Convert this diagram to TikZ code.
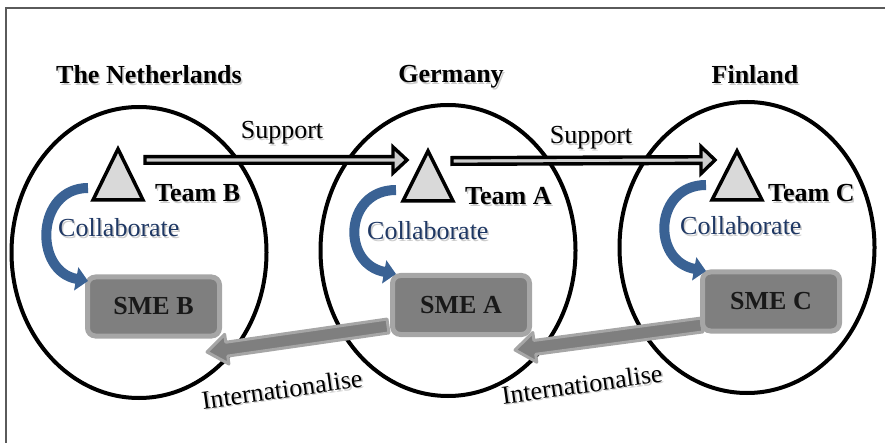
\documentclass[tikz,border=0pt]{standalone}
\usepackage{fontspec}
\setmainfont{Liberation Serif}
\usetikzlibrary{calc,arrows.meta,shapes.geometric}
\definecolor{smefill}{RGB}{127,127,127}
\definecolor{smeborder}{RGB}{166,166,166}
\definecolor{collabblue}{RGB}{58,98,148}
\definecolor{collabtext}{RGB}{31,56,100}
\definecolor{trifill}{RGB}{217,217,217}
\definecolor{framegray}{RGB}{90,90,90}
\definecolor{supfill}{RGB}{205,205,205}
\newcommand{\shtext}[1]{\makebox[0pt][l]{\hspace{1.5pt}\raisebox{-1.5pt}{\textcolor{black!20}{#1}}}#1}
% block arrow: style, tail, tip, body half width, head half width, head length
\newcommand{\blockarrow}[6]{%
  \coordinate (#2-#3-h) at ($(#3)!#6!(#2)$);
  \draw[#1] ($(#2)!#4!90:(#3)$) -- ($(#2-#3-h)!#4!-90:(#2)$) -- ($(#2-#3-h)!#5!-90:(#2)$) -- (#3)
    -- ($(#2-#3-h)!#5!90:(#2)$) -- ($(#2-#3-h)!#4!90:(#2)$) -- ($(#2)!#4!-90:(#3)$) -- cycle;}
\tikzset{
  country/.style={draw=black, line width=4pt, ellipse, inner sep=0pt, minimum width=255pt, minimum height=291pt},
  title/.style={font=\fontsize{26}{30}\selectfont\bfseries, inner sep=0pt},
  teamlbl/.style={font=\fontsize{26}{30}\selectfont\bfseries, inner sep=0pt},
  lbl/.style={font=\fontsize{26}{30}\selectfont, inner sep=0pt},
  collab/.style={font=\fontsize{26}{30}\selectfont, text=collabtext, inner sep=0pt},
  smebox/.style={draw=smeborder, line width=5pt, fill=smefill, rounded corners=8pt, minimum height=59pt,
    font=\fontsize{26}{30}\selectfont\bfseries, text=black!90, inner sep=0pt},
  tri/.style={draw=black, line width=3.5pt, fill=trifill, line join=miter},
  suparrow/.style={draw=black, line width=3.4pt, fill=supfill, line join=miter},
  intarrow/.style={draw=smeborder, line width=3pt, fill=smefill, line join=round},
  collabarrow/.style={draw=collabblue, line width=10pt, -{Triangle[length=12pt,width=23pt]}},
}
\begin{document}
\begin{tikzpicture}[x=1pt,y=-1pt]
\useasboundingbox (0,0) rectangle (885,443);
% frame
\draw[framegray, line width=1.2pt] (6,443) -- (6,8) -- (885,8);
% countries
\node[country] (ellB) at (139,252.5) {};
\node[country] (ellA) at (448,250.5) {};
\node[country] (ellC) at (747,247.5) {};
% titles
\node[title, anchor=base] (tNL) at (149,84) {\shtext{The Netherlands}};
\node[title, anchor=base] (tDE) at (451,83) {\shtext{Germany}};
\node[title, anchor=base] (tFI) at (755,84) {\shtext{Finland}};
% triangles (teams)
\draw[tri] (118,149) coordinate (triB) -- (143,200) -- (93,200) -- cycle;
\draw[tri] (428,151) coordinate (triA) -- (453,201) -- (403,201) -- cycle;
\draw[tri] (737,151) coordinate (triC) -- (762,200) -- (712,200) -- cycle;
\node[teamlbl, anchor=base west] (lB) at (155,202) {\shtext{Team B}};
\node[teamlbl, anchor=base west] (lA) at (465,205) {\shtext{Team A}};
\node[teamlbl, anchor=base west] (lC) at (768,202) {\shtext{Team C}};
% support arrows
\coordinate (s1s) at (145,160);
\coordinate (s1e) at (407,160);
\coordinate (s2s) at (452,161);
\coordinate (s2e) at (715,160);
\blockarrow{suparrow}{s1s}{s1e}{3.3pt}{13pt}{14pt}
\blockarrow{suparrow}{s2s}{s2e}{3.3pt}{13.5pt}{14pt}
\node[lbl, anchor=base] (sup1) at (282,139) {\shtext{Support}};
\node[lbl, anchor=base] (sup2) at (591,144) {\shtext{Support}};
% internationalise arrows
\coordinate (i1s) at (388,326);
\coordinate (i1e) at (207,352);
\coordinate (i2s) at (702,325);
\coordinate (i2e) at (515,350);
\blockarrow{intarrow}{i1s}{i1e}{7pt}{15pt}{20pt}
\blockarrow{intarrow}{i2s}{i2e}{7pt}{15pt}{20pt}
\node[lbl, rotate=8] (int1) at (282,390) {\shtext{Internationalise}};
\node[lbl, rotate=8] (int2) at (582,385) {\shtext{Internationalise}};
% SME boxes
\node[smebox, minimum width=132pt] (smeB) at (153.5,306.5) {SME B};
\node[smebox, minimum width=137pt] (smeA) at (461,305) {SME A};
\node[smebox, minimum width=137pt] (smeC) at (771,301.5) {SME C};
% collaborate arrows
\coordinate (cBs) at (88,188);
\coordinate (cBe) at (88,281);
\coordinate (cAs) at (396,190);
\coordinate (cAe) at (396,274);
\coordinate (cCs) at (706,185);
\coordinate (cCe) at (706,271);
\draw[collabarrow] (cBs) .. controls +(-52,0) and +(-55,-10) .. (cBe);
\draw[collabarrow] (cAs) .. controls +(-52,0) and +(-55,-10) .. (cAe);
\draw[collabarrow] (cCs) .. controls +(-52,0) and +(-55,-10) .. (cCe);
\node[collab, anchor=base west] (clB) at (58,237) {\shtext{Collaborate}};
\node[collab, anchor=base west] (clA) at (367,240) {\shtext{Collaborate}};
\node[collab, anchor=base west] (clC) at (680,235) {\shtext{Collaborate}};
\end{tikzpicture}
\end{document}
